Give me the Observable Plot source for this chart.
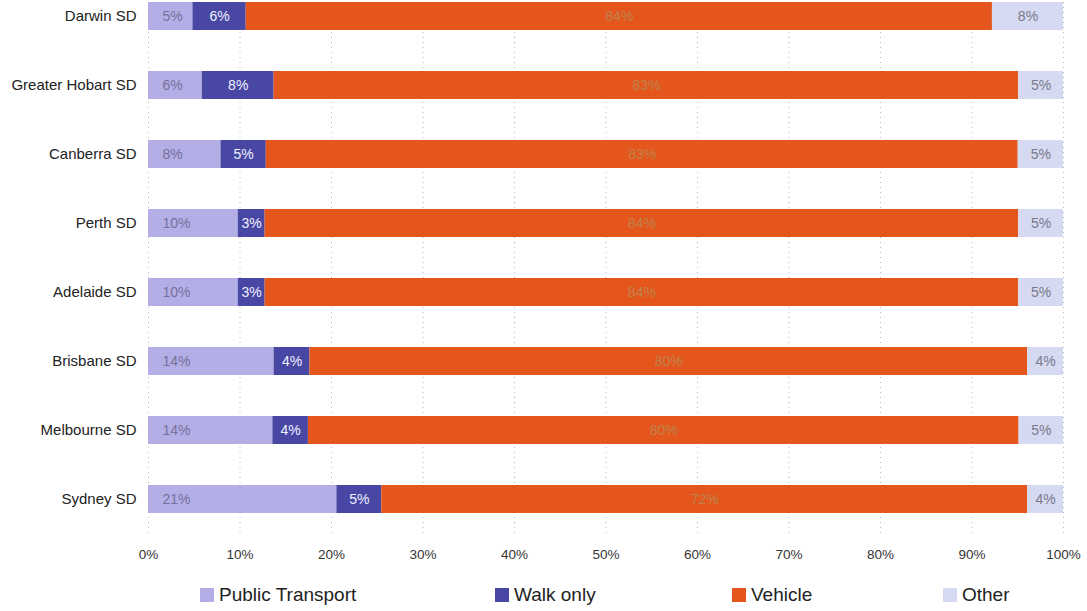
<!DOCTYPE html>
<html>
<head>
<meta charset="utf-8">
<script src="https://cdn.jsdelivr.net/npm/d3@7"></script>
<script src="https://cdn.jsdelivr.net/npm/@observablehq/plot@0.6"></script>
<style>
  html, body { margin: 0; padding: 0; background: #fff; overflow: hidden; }
  #chart { width: 1087px; }
  .legend { position: relative; height: 40px; width: 1087px; font-family: "Liberation Sans", Arial, sans-serif; font-size: 19px; color: #222; }
  .legend .item { position: absolute; top: 0; height: 40px; display: flex; align-items: center; }
  .legend .sw { width: 14px; height: 14px; margin-right: 5px; }
</style>
</head>
<body>
<div id="chart"></div>
<script>
// ---- data ----
const categories = ["Darwin SD", "Greater Hobart SD", "Canberra SD", "Perth SD", "Adelaide SD", "Brisbane SD", "Melbourne SD", "Sydney SD"];
const modes = ["Public Transport", "Walk only", "Vehicle", "Other"];
const publicTransport = [5, 6, 8, 10, 10, 14, 14, 21];
const walkOnly = [6, 8, 5, 3, 3, 4, 4, 5];
const vehicle = [84, 83, 83, 84, 84, 80, 80, 72];
const other = [8, 5, 5, 5, 5, 4, 5, 4];
const xTicks = [0, 0.1, 0.2, 0.3, 0.4, 0.5, 0.6, 0.7, 0.8, 0.9, 1];
const modeColors = ["#b4aee6", "#4848a4", "#e4561b", "#d5d9f2"];
const legendLeft = [200, 495, 732, 943];

const series = [publicTransport, walkOnly, vehicle, other];
const data = [];
categories.forEach((cat, i) => {
  modes.forEach((mode, j) => data.push({cat, mode, value: series[j][i]}));
});

const base = {x: "value", y: "cat", offset: "normalize"};
const lab = (m) => (d) => d.mode === m ? d.value + "%" : null;

const chart = Plot.plot({
  width: 1087,
  height: 575,
  marginTop: 2,
  marginBottom: 40,
  marginLeft: 148,
  marginRight: 24,
  style: {fontFamily: "'Liberation Sans', Arial, sans-serif", fontSize: "12px", color: "#333", background: "#fff"},
  x: {domain: [0, 1], ticks: xTicks, tickFormat: d3.format(".0%")},
  y: {domain: categories, paddingInner: 0.6, paddingOuter: 0.129, align: 0},
  color: {domain: modes, range: modeColors},
  marks: [
    Plot.gridX(xTicks, {stroke: "#b8b8b8", strokeOpacity: 1, strokeDasharray: "1,4"}),
    Plot.barX(data, Plot.stackX({...base, fill: "mode"})),
    Plot.text(data, Plot.stackX1({...base, text: lab("Public Transport"), textAnchor: "start", dx: 14, fill: "#75719a", fontSize: 14})),
    Plot.text(data, Plot.stackX({...base, text: lab("Walk only"), fill: "#f0f0ff", fontSize: 14})),
    Plot.text(data, Plot.stackX({...base, text: lab("Vehicle"), fill: "#c0824e", fontSize: 14})),
    Plot.text(data, Plot.stackX({...base, text: lab("Other"), fill: "#7a7a88", fontSize: 14})),
    Plot.axisX({ticks: xTicks, tickFormat: d3.format(".0%"), tickSize: 0, tickPadding: 14, label: null, fontSize: 13.5, fill: "#333"}),
    Plot.axisY({tickSize: 0, tickPadding: 12, label: null, fontSize: 15, fill: "#222"})
  ]
});
document.getElementById("chart").appendChild(chart);

// legend
const legend = document.createElement("div");
legend.className = "legend";
modes.forEach((m, i) => {
  const item = document.createElement("div");
  item.className = "item";
  item.style.left = legendLeft[i] + "px";
  const sw = document.createElement("span");
  sw.className = "sw";
  sw.style.background = modeColors[i];
  const t = document.createElement("span");
  t.textContent = m;
  item.appendChild(sw);
  item.appendChild(t);
  legend.appendChild(item);
});
document.body.appendChild(legend);
</script>
</body>
</html>
